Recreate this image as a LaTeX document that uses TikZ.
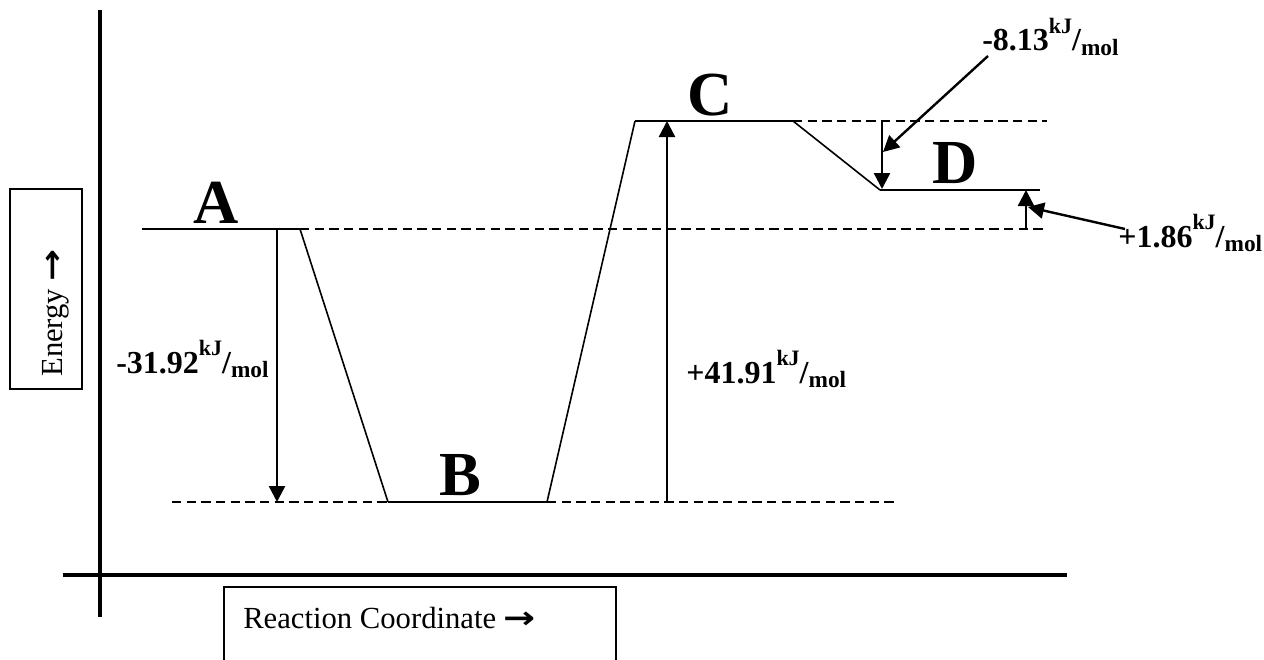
\documentclass[tikz,border=0pt]{standalone}
\usepackage{fontspec}
\setmainfont{Liberation Serif}
\newfontfamily\arrowfont{DejaVu Sans}
\usetikzlibrary{arrows.meta}
\newcommand\kjmol{\raisebox{0.56em}{\fontsize{16.5}{16.5}\selectfont kJ}/\raisebox{-0.14em}{\fontsize{17.5}{17.5}\selectfont mol}}
\newcommand\longarr{{\arrowfont\bfseries\scalebox{1.25}[1]{→}}}
\begin{document}
\begin{tikzpicture}[x=0.75pt,y=-0.75pt,
  level/.style={line width=1.8pt},
  slope/.style={line width=1.2pt},
  guide/.style={line width=1.3pt, dash pattern=on 7pt off 4pt},
  axisline/.style={line width=2.4pt},
  darrow/.style={line width=1.8pt, -{Triangle[length=12pt,width=12pt]}},
  biglbl/.style={font=\bfseries\fontsize{47}{47}\selectfont, anchor=base, inner sep=0pt},
  numlbl/.style={font=\bfseries\fontsize{24}{24}\selectfont, anchor=base west, inner sep=0pt},
  axlbl/.style={font=\fontsize{23}{23}\selectfont, inner sep=0pt},
  boxline/.style={line width=1.4pt}]
\useasboundingbox (0,0) rectangle (1264,660);
% axes
\coordinate (vtop) at (100,10);
\coordinate (vbot) at (100,617);
\coordinate (hl) at (63,575);
\coordinate (hr) at (1067,575);
\draw[axisline] (vtop) -- (vbot);
\draw[axisline] (hl) -- (hr);
% energy box
\node[draw, boxline, minimum width=54pt, minimum height=150pt, inner sep=0pt] (ebox) at (46,289) {};
\node[axlbl, rotate=90, anchor=base west] (etext) at (62,377) {Energy \longarr};
% reaction coordinate box
\coordinate (r1) at (224,662);
\coordinate (r2) at (224,587);
\coordinate (r3) at (616,587);
\coordinate (r4) at (616,662);
\draw[boxline] (r1) -- (r2) -- (r3) -- (r4);
\node[axlbl, anchor=base west] (rtext) at (243,628) {Reaction Coordinate \longarr};
% level coordinates
\coordinate (A1) at (142,229);
\coordinate (A2) at (300,229);
\coordinate (B1) at (388,502);
\coordinate (B2) at (547,502);
\coordinate (C1) at (635,121);
\coordinate (C2) at (793,121);
\coordinate (D1) at (880,190);
\coordinate (D2) at (1040,190);
\coordinate (gA) at (1047,229);
\coordinate (gBl) at (172,502);
\coordinate (gBr) at (895,502);
\coordinate (gC) at (1047,121);
% guides
\draw[guide] (A2) -- (gA);
\draw[guide] (gBl) -- (B1);
\draw[guide] (B2) -- (gBr);
\draw[guide] (C2) -- (gC);
% levels
\draw[level] (A1) -- (A2);
\draw[level] (B1) -- (B2);
\draw[level] (C1) -- (C2);
\draw[level] (D1) -- (D2);
% slopes
\draw[slope] (A2) -- (B1);
\draw[slope] (B2) -- (C1);
\draw[slope] (C2) -- (D1);
% letters
\node[biglbl] (A) at (216,223) {A};
\node[biglbl] (B) at (460,495) {B};
\node[biglbl] (C) at (710,115) {C};
\node[biglbl] (D) at (955,183) {D};
% energy arrows
\coordinate (aA1) at (277,229);
\coordinate (aA2) at (277,502);
\draw[darrow] (aA1) -- (aA2);
\coordinate (aC1) at (667,502);
\coordinate (aC2) at (667,121);
\draw[darrow] (aC1) -- (aC2);
\coordinate (aD1) at (882,121);
\coordinate (aD2) at (882,189);
\draw[darrow] (aD1) -- (aD2);
\coordinate (aE1) at (1026,229);
\coordinate (aE2) at (1026,190);
\draw[darrow] (aE1) -- (aE2);
% labels
\node[numlbl] (l3192) at (116,373) {-31.92\kjmol};
\node[numlbl] (l4191) at (686,383) {+41.91\kjmol};
\node[numlbl] (l813) at (982,51) {-8.13\kjmol};
\node[numlbl] (l186) at (1118,247) {+1.86\kjmol};
% pointer arrows
\coordinate (p1s) at (988,56);
\coordinate (p1e) at (883,152);
\draw[darrow] (p1s) -- (p1e);
\coordinate (p2s) at (1125,229);
\coordinate (p2e) at (1028,207);
\draw[darrow] (p2s) -- (p2e);
\end{tikzpicture}
\end{document}
